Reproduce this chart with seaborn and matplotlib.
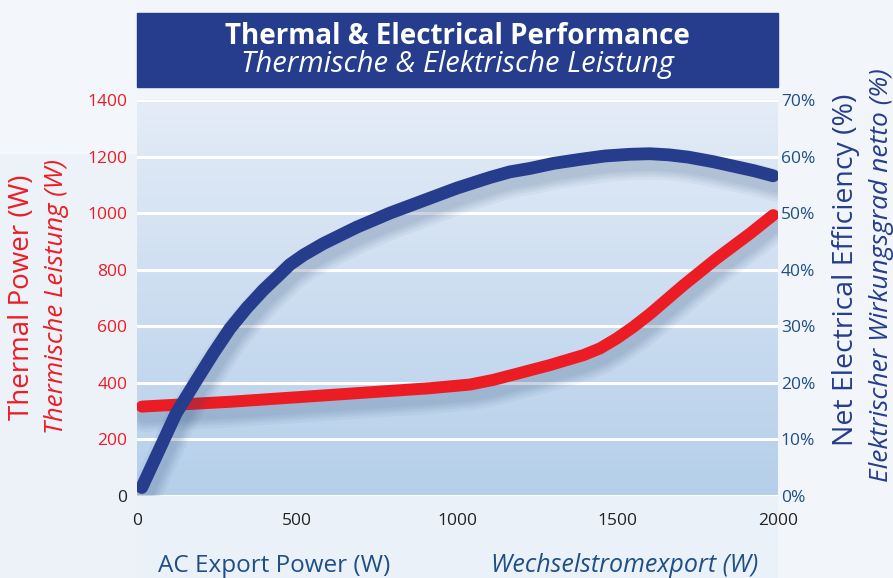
import numpy as np
import matplotlib
matplotlib.use("Agg")
import matplotlib.pyplot as plt
import matplotlib.patheffects as pe
from matplotlib.patches import Rectangle
from matplotlib.ticker import FixedLocator
from matplotlib.colors import LinearSegmentedColormap
import seaborn as sns
import pandas as pd

# values
power_thermal = [15, 290, 602, 914, 1039, 1110, 1185, 1289, 1393, 1445, 1497, 1549, 1601, 1705, 1809, 1913, 1985]
thermal_w = [316, 333, 357, 381, 394, 410, 432, 463, 498, 522, 557, 598, 644, 745, 840, 928, 993]

power_eff = [15, 122, 186, 238, 290, 342, 394, 446, 477, 520, 581, 685, 789, 893, 997, 1101,
             1164, 1226, 1300, 1382, 1460, 1538, 1600, 1660, 1720, 1797, 1861, 1925, 1985]
efficiency = [1.5, 14.6, 20.5, 25.2, 29.6, 33.2, 36.4, 39.2, 40.9, 42.6, 44.6, 47.5, 50.0, 52.2, 54.4, 56.3,
              57.3, 57.9, 58.8, 59.5, 60.1, 60.4, 60.5, 60.3, 59.9, 59.1, 58.3, 57.5, 56.6]

x_ticks = [0, 500, 1000, 1500, 2000]
left_ticks = [0, 200, 400, 600, 800, 1000, 1200, 1400]
right_ticks = [0, 10, 20, 30, 40, 50, 60, 70]

title_en = "Thermal & Electrical Performance"
title_de = "Thermische & Elektrische Leistung"

RED = "#EC1C24"
NAVY = "#253D8C"
TICKBLUE = "#1F4F85"

sns.set_style("white")
plt.rcParams['font.family'] = ['Open Sans', 'DejaVu Sans']

fig = plt.figure(figsize=(8.93, 5.78), dpi=100, facecolor="#EDF2F8")

# faint background tiles
for (x0, y0, w, h, c) in [(0, 0.735, 0.1534, 0.265, "#F3F6FB"), (0.1534, 0.0, 0.7178, 0.14, "#EBF1F8"),
                          (0.8712, 0, 0.1288, 1.0, "#F2F5FA"), (0.1534, 0.83, 0.7178, 0.17, "#F2F5FA")]:
    fig.patches.append(Rectangle((x0, y0), w, h, transform=fig.transFigure, color=c, zorder=-5))

df_t = pd.DataFrame({"power": power_thermal, "thermal": thermal_w})
df_e = pd.DataFrame({"power": power_eff, "eff": efficiency})

ax = fig.add_axes([0.1534, 0.1419, 0.7178, 0.6851])
ax.set_facecolor("none")
grad = np.linspace(0, 1, 256).reshape(-1, 1)
cmap = LinearSegmentedColormap.from_list("bg", ["#B5CFEA", "#E4ECF7"])
ax.imshow(grad, cmap=cmap, origin="lower", extent=[0, 1, 0, 1], transform=ax.transAxes,
          aspect="auto", zorder=0)


def shadow(lw):
    fx = [pe.SimpleLineShadow(offset=(2, -7), shadow_color="#2E4E78", alpha=0.05, linewidth=lw + k)
          for k in (14, 10, 7, 4, 1)]
    return fx + [pe.Normal()]


sns.lineplot(data=df_t, x="power", y="thermal", ax=ax, color=RED, linewidth=8.6,
             solid_capstyle="round", solid_joinstyle="round", zorder=3,
             path_effects=shadow(8.6))
ax.set_xlim(0, 2000)
ax.set_ylim(0, 1400)
ax.yaxis.set_major_locator(FixedLocator(left_ticks))
ax.xaxis.set_major_locator(FixedLocator(x_ticks))
ax.grid(axis="y", color="white", linewidth=2.2, zorder=1)
ax.grid(axis="x", visible=False)
ax.set_axisbelow(False)
for s in ax.spines.values():
    s.set_visible(False)
ax.tick_params(axis="y", length=0, pad=7, labelsize=12.5, labelcolor=RED)
ax.tick_params(axis="x", length=0, pad=12, labelsize=12.5, labelcolor="#222222")
ax.get_yticklabels()[0].set_color("#222222")
ax.set_xlabel("")
ax.set_ylabel("")

ax2 = ax.twinx()
ax2.set_facecolor("none")
sns.lineplot(data=df_e, x="power", y="eff", ax=ax2, color=NAVY, linewidth=9.2,
             solid_capstyle="round", solid_joinstyle="round", zorder=3,
             path_effects=shadow(9.2))
ax2.set_ylim(0, 70)
ax2.set_xlim(0, 2000)
ax2.yaxis.set_major_locator(FixedLocator(right_ticks))
ax2.set_yticklabels([f"{t}%" for t in right_ticks])
ax2.grid(False)
for s in ax2.spines.values():
    s.set_visible(False)
ax2.tick_params(axis="y", length=0, pad=2, labelsize=12.5, labelcolor=TICKBLUE)
ax2.set_ylabel("")
ax2.set_xlabel("")

# title box
fig.patches.append(Rectangle((0.1534, 0.8495), 0.7178, 0.128, transform=fig.transFigure,
                             color=NAVY, zorder=2))
fig.text(0.512, 0.937, title_en, color="white", fontsize=20, fontweight="bold",
         ha="center", va="center", zorder=3)
fig.text(0.512, 0.888, title_de, color="white", fontsize=21, style="italic",
         ha="center", va="center", zorder=3)

# axis labels
fig.text(22 / 893, 1 - 297 / 578, "Thermal Power (W)", color=RED, fontsize=20,
         rotation=90, ha="center", va="center")
fig.text(57 / 893, 1 - 296 / 578, "Thermische Leistung (W)", color=RED, fontsize=18.5,
         style="italic", rotation=90, ha="center", va="center")
fig.text(846 / 893, 1 - 270 / 578, "Net Electrical Efficiency (%)", color=NAVY, fontsize=20.5,
         rotation=90, ha="center", va="center")
fig.text(882 / 893, 1 - 275 / 578, "Elektrischer Wirkungsgrad netto (%)", color=NAVY, fontsize=19,
         style="italic", rotation=90, ha="center", va="center")
fig.text(274 / 893, 1 - 566 / 578, "AC Export Power (W)", color=TICKBLUE, fontsize=17.5,
         ha="center", va="center")
fig.text(625 / 893, 1 - 566 / 578, "Wechselstromexport (W)", color=TICKBLUE, fontsize=18,
         style="italic", ha="center", va="center")

fig.savefig("out.png", dpi=100, facecolor=fig.get_facecolor())
